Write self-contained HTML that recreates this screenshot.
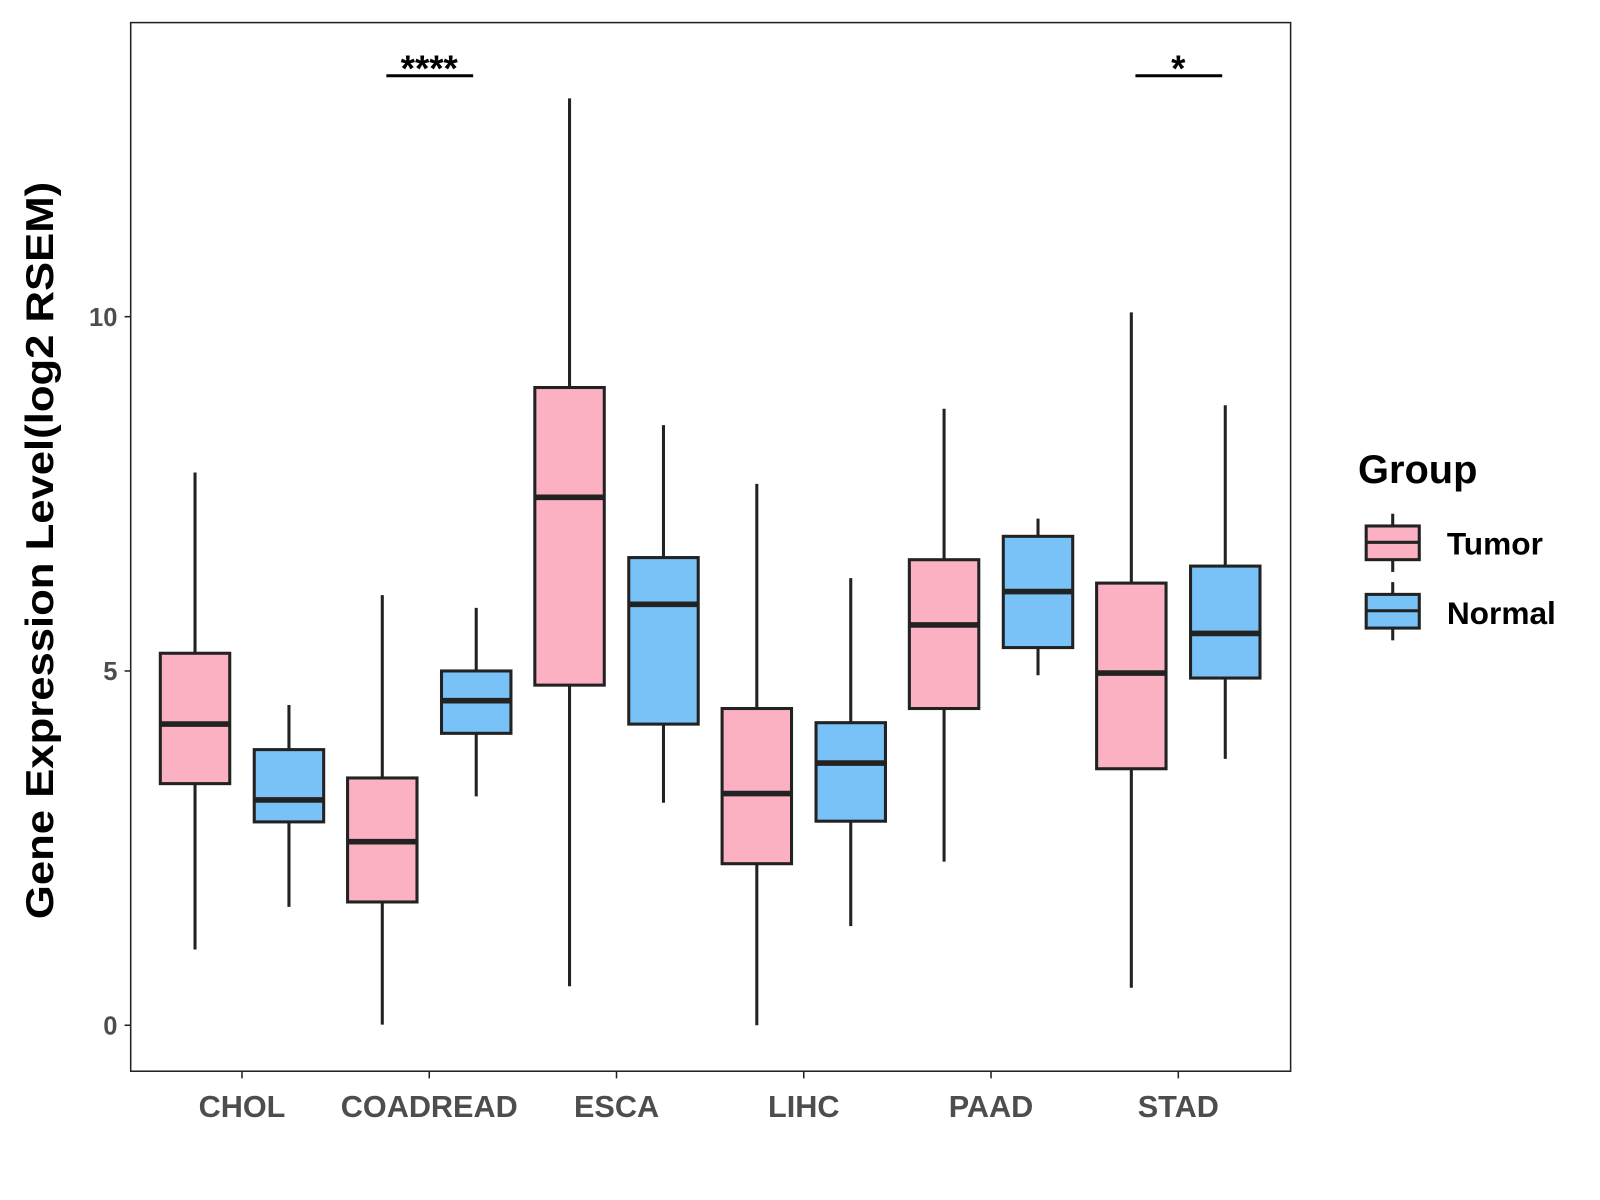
<!DOCTYPE html>
<html><head><meta charset="utf-8"><style>body{margin:0;background:#fff}svg{display:block;font-family:"Liberation Sans",Arial,sans-serif}</style></head>
<body>
<svg id="chart" width="1600" height="1200" viewBox="0 0 1567 1175">
<rect x="128" y="22" width="1136" height="1027" fill="#fff" stroke="#222" stroke-width="1.5"/>
<g id="marks"></g>
<text transform="translate(52,539) rotate(-90)" text-anchor="middle" font-size="38" font-weight="bold" fill="#000" textLength="722" lengthAdjust="spacingAndGlyphs">Gene Expression Level(log2 RSEM)</text>
<g>
<text x="1330" y="473" font-size="39" font-weight="bold">Group</text>
<g>
<line x1="1364" y1="503" x2="1364" y2="560" stroke="#222" stroke-width="3"/>
<rect x="1338" y="515" width="52" height="33" fill="#FBB1C2" stroke="#222" stroke-width="3"/>
<line x1="1338" y1="531" x2="1390" y2="531" stroke="#222" stroke-width="3"/>
<text x="1417" y="543" font-size="31" font-weight="bold">Tumor</text></g>
<g>
<line x1="1364" y1="570" x2="1364" y2="627" stroke="#222" stroke-width="3"/>
<rect x="1338" y="582" width="52" height="33" fill="#78C2F8" stroke="#222" stroke-width="3"/>
<line x1="1338" y1="598" x2="1390" y2="598" stroke="#222" stroke-width="3"/>
<text x="1417" y="611" font-size="31" font-weight="bold">Normal</text></g>
</g>
</svg>
<script>
const categories=["CHOL","COADREAD","ESCA","LIHC","PAAD","STAD"];
// [low, q1, median, q3, high]
const tumorStats=[[1.07,3.41,4.25,5.25,7.8],[0.01,1.74,2.59,3.49,6.07],[0.55,4.8,7.45,9.0,13.08],[0,2.28,3.27,4.47,7.64],[2.31,4.47,5.65,6.57,8.7],[0.53,3.62,4.97,6.24,10.06]];
const normalStats=[[1.67,2.87,3.18,3.89,4.52],[3.23,4.12,4.58,5.0,5.89],[3.14,4.25,5.94,6.6,8.47],[1.4,2.88,3.7,4.27,6.31],[4.94,5.33,6.12,6.9,7.15],[3.76,4.9,5.53,6.48,8.75]];
const yTicks=[0,5,10];
const sigLabels=["","****","","","","*"];
const sigLevel=13.4;
const NS="http://www.w3.org/2000/svg";
const g=document.getElementById('marks');
function y(v){return 1004-v*69.4;}
function x(i){return 237+i*183.4;}
function el(t,a,p){const e=document.createElementNS(NS,t);for(const k in a)e.setAttribute(k,a[k]);(p||g).appendChild(e);return e;}
yTicks.forEach(t=>{
 const l=el('line',{x1:122,x2:128,y1:y(t),y2:y(t),stroke:'#222','stroke-width':1.5});
 
 
 const tx=el('text',{x:115,y:y(t)+9,'text-anchor':'end','font-size':25,'font-weight':'bold',fill:'#4d4d4d'});
 tx.textContent=t;
 
 
});
categories.forEach((c,i)=>{
 const l=el('line',{x1:x(i),x2:x(i),y1:1049,y2:1056,stroke:'#222','stroke-width':1.5});
 
 
 const tx=el('text',{x:x(i),y:1094,'text-anchor':'middle','font-size':30,'font-weight':'bold',fill:'#4d4d4d'});
 tx.textContent=c;
 
 
 [[tumorStats[i],-46,'#FBB1C2','tumor'],[normalStats[i],46,'#78C2F8','normal']].forEach(([s,off,col,nm])=>{
  const cx=x(i)+off;
  const bg=el('g',{});
  
  
  el('line',{x1:cx,x2:cx,y1:y(s[0]),y2:y(s[4]),stroke:'#222','stroke-width':3},bg);
  el('rect',{x:cx-34,y:y(s[3]),width:68,height:y(s[1])-y(s[3]),fill:col,stroke:'#222','stroke-width':3},bg);
  el('line',{x1:cx-34,x2:cx+34,y1:y(s[2]),y2:y(s[2]),stroke:'#222','stroke-width':5.5},bg);
 });
 if(sigLabels[i]){
  const l2=el('line',{x1:x(i)-42,x2:x(i)+43,y1:y(sigLevel),y2:y(sigLevel),stroke:'#000','stroke-width':3});
  
  
  const st=el('text',{x:x(i),y:y(sigLevel)+5,'text-anchor':'middle','font-size':36,'font-weight':'bold'});
  st.textContent=sigLabels[i];
  
  
 }
});
</script>
</body></html>
